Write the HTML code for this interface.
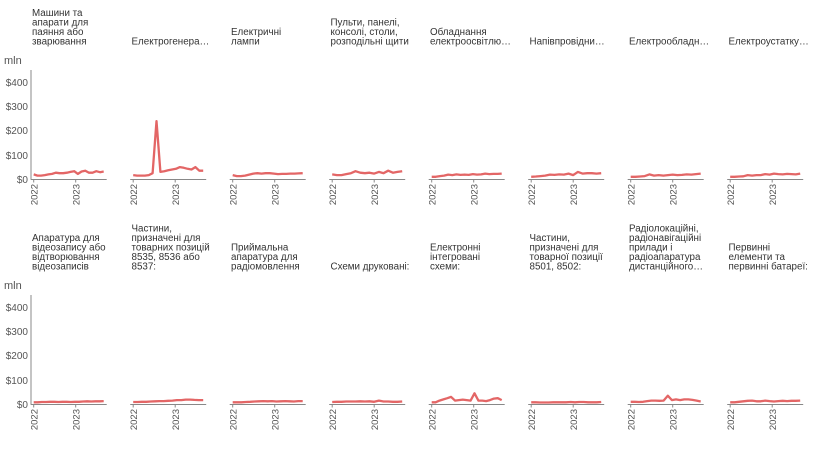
<!DOCTYPE html>
<html><head><meta charset="utf-8"><style>
html,body{margin:0;padding:0;background:#fff;}
svg{display:block;font-family:"Liberation Sans","DejaVu Sans",sans-serif;}
.t{font-size:9.8px;fill:#333;}
.ax{font-size:10px;fill:#555;}
.yr{font-size:9.5px;fill:#555;}
</style></head><body>
<svg id="s" width="817" height="451" viewBox="0 0 817 451" xmlns="http://www.w3.org/2000/svg">
<text class="ax" x="4" y="64" style="font-size:11px">mln</text>
<text class="ax" x="4" y="289" style="font-size:11px">mln</text>
<g text-anchor="end" class="ax">
<text x="28" y="86">$400</text><text x="28" y="110">$300</text><text x="28" y="134">$200</text><text x="28" y="159">$100</text><text x="28" y="183">$0</text>
<text x="28" y="311">$400</text><text x="28" y="335">$300</text><text x="28" y="359">$200</text><text x="28" y="384">$100</text><text x="28" y="408">$0</text>
</g>
<g class="t">
<text x="32" y="16">Машини та</text><text x="32" y="25.5">апарати для</text><text x="32" y="35">паяння або</text><text x="32" y="44.5">зварювання</text>
<text x="131.5" y="44.5">Електрогенера…</text>
<text x="231" y="35">Електричні</text><text x="231" y="44.5">лампи</text>
<text x="330.5" y="25.5">Пульти, панелі,</text><text x="330.5" y="35">консолі, столи,</text><text x="330.5" y="44.5">розподільні щити</text>
<text x="430" y="35">Обладнання</text><text x="430" y="44.5">електроосвітлю…</text>
<text x="529.5" y="44.5">Напівпровідни…</text>
<text x="629" y="44.5">Електрообладн…</text>
<text x="728.5" y="44.5">Електроустатку…</text>

<text x="32" y="241">Апаратура для</text><text x="32" y="250.5">відеозапису або</text><text x="32" y="260">відтворювання</text><text x="32" y="269.5">відеозаписів</text>
<text x="131.5" y="231.5">Частини,</text><text x="131.5" y="241">призначені для</text><text x="131.5" y="250.5">товарних позицій</text><text x="131.5" y="260">8535, 8536 або</text><text x="131.5" y="269.5">8537:</text>
<text x="231" y="250.5">Приймальна</text><text x="231" y="260">апаратура для</text><text x="231" y="269.5">радіомовлення</text>
<text x="330.5" y="269.5">Схеми друковані:</text>
<text x="430" y="250.5">Електронні</text><text x="430" y="260">інтегровані</text><text x="430" y="269.5">схеми:</text>
<text x="529.5" y="241">Частини,</text><text x="529.5" y="250.5">призначені для</text><text x="529.5" y="260">товарної позиції</text><text x="529.5" y="269.5">8501, 8502:</text>
<text x="629" y="231.5">Радіолокаційні,</text><text x="629" y="241">радіонавігаційні</text><text x="629" y="250.5">прилади і</text><text x="629" y="260">радіоапаратура</text><text x="629" y="269.5">дистанційного…</text>
<text x="728.5" y="250.5">Первинні</text><text x="728.5" y="260">елементи та</text><text x="728.5" y="269.5">первинні батареї:</text>
</g>
<g id="yrs" class="yr" text-anchor="end">
<text transform="translate(37.5,184) rotate(-90)">2022</text><text transform="translate(79.5,184) rotate(-90)">2023</text>
<text transform="translate(137,184) rotate(-90)">2022</text><text transform="translate(179,184) rotate(-90)">2023</text>
<text transform="translate(236.5,184) rotate(-90)">2022</text><text transform="translate(278.5,184) rotate(-90)">2023</text>
<text transform="translate(336,184) rotate(-90)">2022</text><text transform="translate(378,184) rotate(-90)">2023</text>
<text transform="translate(435.5,184) rotate(-90)">2022</text><text transform="translate(477.5,184) rotate(-90)">2023</text>
<text transform="translate(535,184) rotate(-90)">2022</text><text transform="translate(577,184) rotate(-90)">2023</text>
<text transform="translate(634.5,184) rotate(-90)">2022</text><text transform="translate(676.5,184) rotate(-90)">2023</text>
<text transform="translate(734,184) rotate(-90)">2022</text><text transform="translate(776,184) rotate(-90)">2023</text>
<text transform="translate(37.5,409) rotate(-90)">2022</text><text transform="translate(79.5,409) rotate(-90)">2023</text>
<text transform="translate(137,409) rotate(-90)">2022</text><text transform="translate(179,409) rotate(-90)">2023</text>
<text transform="translate(236.5,409) rotate(-90)">2022</text><text transform="translate(278.5,409) rotate(-90)">2023</text>
<text transform="translate(336,409) rotate(-90)">2022</text><text transform="translate(378,409) rotate(-90)">2023</text>
<text transform="translate(435.5,409) rotate(-90)">2022</text><text transform="translate(477.5,409) rotate(-90)">2023</text>
<text transform="translate(535,409) rotate(-90)">2022</text><text transform="translate(577,409) rotate(-90)">2023</text>
<text transform="translate(634.5,409) rotate(-90)">2022</text><text transform="translate(676.5,409) rotate(-90)">2023</text>
<text transform="translate(734,409) rotate(-90)">2022</text><text transform="translate(776,409) rotate(-90)">2023</text>
</g>
<g id="g"></g>
</svg>
<script>
var D=[
[15,10,10,12,15,17,22,20,20,22,25,28,17,27,30,22,22,28,24,27],
[12,10,10,10,12,20,235,25,28,32,35,38,45,42,38,35,45,30,30],
[12,8,8,10,14,18,20,18,20,20,18,16,17,17,18,18,19,20],
[15,12,12,16,20,28,22,20,22,18,25,20,30,22,25,28],
[5,5,8,10,14,12,15,13,14,13,16,14,15,18,16,17,17,18],
[5,6,8,10,14,13,15,14,18,12,25,18,20,20,18,20],
[5,5,6,8,15,10,12,10,12,14,12,13,15,14,16,18],
[5,5,6,7,12,10,12,12,16,14,18,16,15,17,16,15,18],
[3,3,4,4,5,5,4,5,5,4,5,5,6,7,6,7,7,8],
[4,4,5,5,6,7,8,8,9,10,12,12,14,14,13,12,12],
[3,3,3,4,5,6,7,8,7,8,6,7,8,7,6,8,8],
[4,5,5,6,6,6,7,6,7,5,10,6,6,5,5,6],
[3,3,10,15,20,25,10,12,14,12,10,40,10,10,8,12,18,20,12],
[3,3,2,2,2,3,3,3,3,4,3,4,4,3,3,3,4],
[5,5,4,5,8,10,10,9,10,30,12,15,12,15,15,13,10,6],
[3,3,5,7,9,10,7,7,10,8,6,8,9,8,9,9,10]];
var h='';
h+='<line x1="31" y1="70" x2="31" y2="179.5" stroke="#888" stroke-width="1"/>';
h+='<line x1="31" y1="295" x2="31" y2="404.5" stroke="#888" stroke-width="1"/>';
for(var i=0;i<16;i++){var c=i%8,r=Math.floor(i/8);var x0=33.7+99.5*c,yb=179.5+225*r;
h+='<line x1="'+(x0-3)+'" y1="'+yb+'" x2="'+(x0+73)+'" y2="'+yb+'" stroke="#888" stroke-width="1"/>';
h+='<line x1="'+x0+'" y1="'+yb+'" x2="'+x0+'" y2="'+(yb+3)+'" stroke="#888"/>';
h+='<line x1="'+(x0+42)+'" y1="'+yb+'" x2="'+(x0+42)+'" y2="'+(yb+3)+'" stroke="#888"/>';
var d=D[i],n=d.length,p='';
for(var k=0;k<n;k++){var x=x0+k*(70/(n-1));var y=yb-1.5-d[k]*0.242;p+=(k?'L':'M')+x.toFixed(1)+','+y.toFixed(1);}
h+='<path d="'+p+'" fill="none" stroke="#e05555" stroke-opacity="0.9" stroke-width="2.3" stroke-linejoin="round"/>';}
document.getElementById('g').innerHTML=h;
</script>
</body></html>
